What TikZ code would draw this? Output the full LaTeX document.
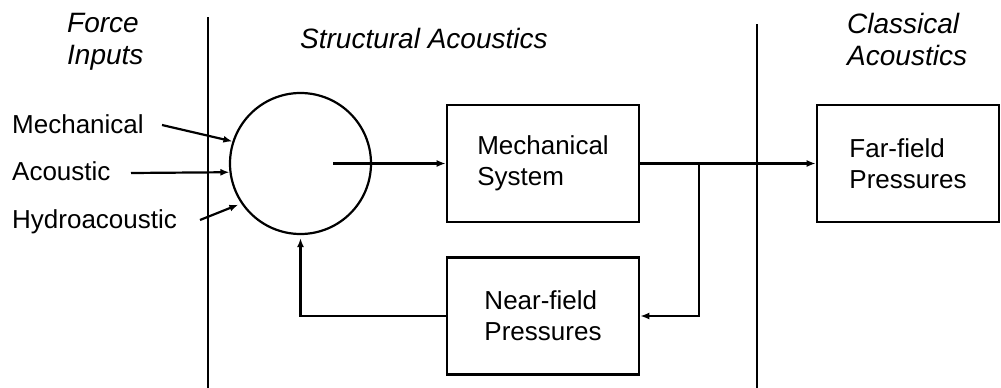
\documentclass[tikz,border=0pt]{standalone}
\usepackage{fontspec}
\setmainfont{Liberation Sans}
\usetikzlibrary{arrows.meta}
\begin{document}
\begin{tikzpicture}[x=1pt,y=-1pt,
  label/.style={font=\fontsize{26}{31}\selectfont, inner sep=0pt, anchor=base west},
  heading/.style={font=\fontsize{28}{32}\selectfont\itshape, inner sep=0pt, align=left},
  block/.style={draw, line width=2.6pt, minimum width=192pt, minimum height=117pt,
    align=left, font=\fontsize{26}{31}\selectfont, inner sep=0pt},
  summer/.style={draw, circle, line width=2.2pt, minimum size=141pt, inner sep=0pt},
  link/.style={line width=2.2pt, -{Latex[length=9pt,width=7pt]}},
  divider/.style={line width=1.6pt}]
\useasboundingbox (0,0) rectangle (1001,388);

% section dividers
\draw[divider] (208,17) -- (208,388);
\draw[divider] (757,24) -- (757,388);

% section headings
\node[heading, anchor=north west] (hin) at (67,13) {Force\\Inputs};
\node[label, font=\fontsize{28}{32}\selectfont\itshape] (hsa) at (300,48) {Structural Acoustics};
\node[heading, anchor=north west] (hca) at (847,13) {Classical\\Acoustics};

% input labels
\node[label] (lmech) at (12,133) {Mechanical};
\node[label] (lacou) at (12,180) {Acoustic};
\node[label] (lhydro) at (12,228) {Hydroacoustic};

% summing junction and blocks
\node[summer] (sum) at (300.5,163.5) {};
\node[block] (mech) at (543,163.5) {Mechanical\\System};
\node[block] (near) at (543,316) {Near-field\\Pressures};
\node[block, minimum width=182pt] (far) at (908,163.5) {Far-field\\Pressures};

% free ends of the connectors
\coordinate (m0) at (162,125);
\coordinate (a0) at (131,173);
\coordinate (h0) at (200,220);
\coordinate (src) at (333,163.5);
\coordinate (jn) at (699,163.5);

% inputs into the summing junction
\draw[link] (m0) -- (sum.162);
\draw[link] (a0) -- (sum.187.7);
\draw[link, shorten >=3pt] (h0) -- (sum.214);

% forward path
\draw[link] (src) -- (mech.west);
\draw[link] (mech.east) -- (far.west);

% feedback path
\draw[link] (jn) |- (near.east);
\draw[link, shorten >=3pt] (near.west) -| (sum.south);
\end{tikzpicture}
\end{document}
